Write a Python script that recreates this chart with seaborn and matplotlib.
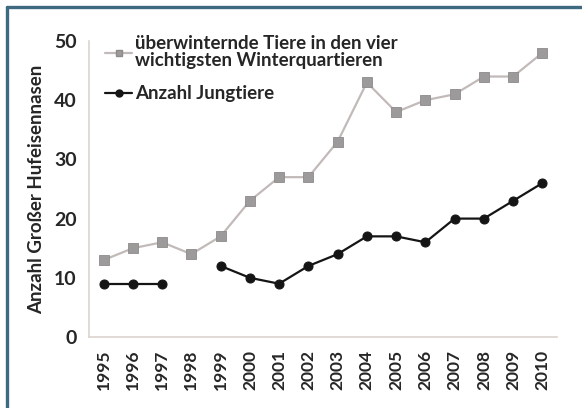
import matplotlib
matplotlib.use("Agg")
import matplotlib.pyplot as plt
from matplotlib.lines import Line2D
import numpy as np
import pandas as pd
import seaborn as sns

years = ["1995", "1996", "1997", "1998", "1999", "2000", "2001", "2002",
         "2003", "2004", "2005", "2006", "2007", "2008", "2009", "2010"]
wintering = [13, 15, 16, 14, 17, 23, 27, 27, 33, 43, 38, 40, 41, 44, 44, 48]
juveniles = [9, 9, 9, np.nan, 12, 10, 9, 12, 14, 17, 17, 16, 20, 20, 23, 26]

label_wintering = "überwinternde Tiere in den vier\nwichtigsten Winterquartieren"
label_juveniles = "Anzahl Jungtiere"
y_label = "Anzahl Großer Hufeisennasen"
y_ticks = [0, 10, 20, 30, 40, 50]

sns.set_theme(style="white")
plt.rcParams["font.family"] = ["Lato", "DejaVu Sans"]

text_col = "#262626"
axis_col = "#dcd3d0"
gray_line = "#c2bab8"
gray_marker = "#9c9a9a"
black = "#151515"
weight = "bold"

pos = np.arange(len(years))
df_w = pd.DataFrame({"pos": pos, "value": wintering})
df_j = pd.DataFrame({"pos": pos, "value": juveniles})
# separate runs so the missing year leaves a gap in the line
df_j["run"] = np.cumsum(df_j["value"].isna())
df_j = df_j.dropna()

fig = plt.figure(figsize=(5.82, 4.08), dpi=100)
ax = fig.add_axes([89 / 582, 1 - 337 / 408, (557 - 89) / 582, (337 - 41) / 408])

sns.lineplot(data=df_w, x="pos", y="value", ax=ax, color=gray_line, lw=1.6,
             marker="s", markersize=6.5, markerfacecolor=gray_marker,
             markeredgecolor="#8e8a8a", markeredgewidth=0.6, estimator=None)
sns.lineplot(data=df_j, x="pos", y="value", units="run", ax=ax, color=black,
             lw=1.6, marker="o", markersize=6.5, markerfacecolor=black,
             markeredgecolor=black, estimator=None)

ax.set_xlim(-0.5, len(years) - 0.5)
ax.set_ylim(0, 50)
ax.set_yticks(y_ticks)
ax.set_yticklabels([str(t) for t in y_ticks], fontsize=14, color=text_col,
                   fontweight=weight)
ax.set_xticks(pos)
ax.set_xticklabels(years, rotation=90, fontsize=12.5, color=text_col,
                   fontweight=weight)
ax.set_xticks(np.arange(len(years) + 1) - 0.5, minor=True)
ax.tick_params(axis="x", which="major", length=0, pad=9)
ax.tick_params(axis="x", which="minor", length=4, color=axis_col, width=1)
ax.tick_params(axis="y", length=5, color=axis_col, width=1, pad=4)
ax.set_xlabel("")
ax.set_ylabel(y_label, fontsize=13.5, color=text_col, fontweight=weight,
              labelpad=6)

for side in ["top", "right"]:
    ax.spines[side].set_visible(False)
for side in ["left", "bottom"]:
    ax.spines[side].set_color(axis_col)
    ax.spines[side].set_linewidth(1.2)

handles = [
    Line2D([], [], color=gray_line, lw=1.6, marker="s", markersize=5,
           markerfacecolor=gray_marker, markeredgecolor="#8e8a8a"),
    Line2D([], [], color=black, lw=1.6, marker="o", markersize=5,
           markerfacecolor=black),
]
leg = ax.legend(handles, [label_wintering, label_juveniles], loc="upper left",
                bbox_to_anchor=(0.018, 1.045), frameon=False, fontsize=13.5,
                handlelength=1.45, handletextpad=0.15, labelspacing=0.85,
                borderaxespad=0.0)
for t in leg.get_texts():
    t.set_color(text_col)
    t.set_fontweight(weight)
    t.set_linespacing(1.0)

# blue frame along the left and top edges
frame_col = "#3d6a80"
fig.add_artist(Line2D([6.5 / 582, 6.5 / 582], [0, 1 - 6.5 / 408],
                      transform=fig.transFigure, color=frame_col, lw=2.4))
fig.add_artist(Line2D([6.5 / 582, 1], [1 - 6.5 / 408, 1 - 6.5 / 408],
                      transform=fig.transFigure, color=frame_col, lw=2.4))

fig.savefig("out.png", dpi=100)
